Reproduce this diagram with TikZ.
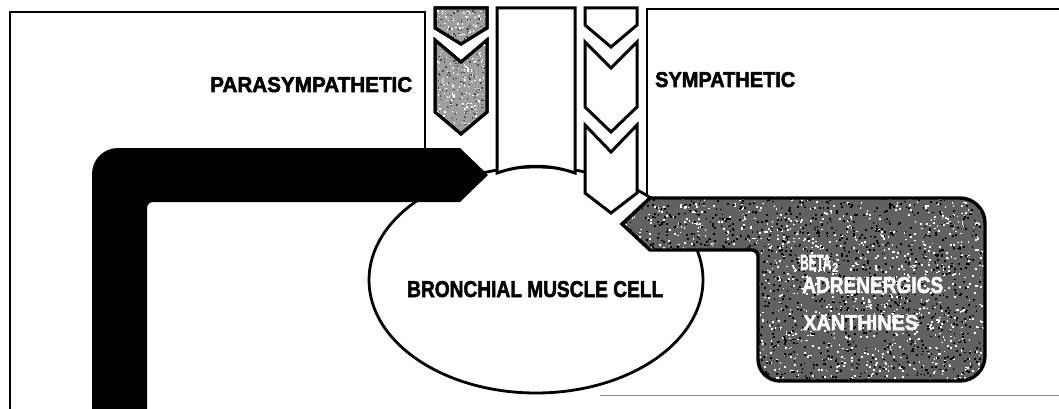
\documentclass[tikz,border=0pt]{standalone}
\usepackage{fontspec}
\setmainfont{Liberation Sans}
\newfontfamily\heavyfont[FakeBold=2.4]{Liberation Sans Bold}
\usetikzlibrary{shapes.geometric}
\newcommand\fitlabel[3]{\resizebox{#1pt}{#2pt}{\heavyfont #3}}
\tikzset{
  frameline/.style={line width=2.6pt, black},
  outlined/.style={line width=3pt, black, line join=miter},
  lightgray/.style={fill=black!38},
  lbl/.style={inner sep=0pt, anchor=base west},
}
\begin{document}
\begin{tikzpicture}[x=1pt,y=-1pt]
\useasboundingbox (0,0) rectangle (1059,409);
\fill[white] (0,0) rectangle (1059,409);
% frames
\draw[frameline] (10,409) -- (10,12) -- (425,12) -- (425,150);
\draw[frameline] (647,200) -- (647,9) -- (1059,9);
\draw[black!45, line width=1pt] (600,395) -- (1059,395);
% cell
\node[ellipse, draw, line width=2.8pt, fill=white, minimum width=334pt, minimum height=226pt, inner sep=0pt] (cell) at (536,280) {};
% central tube
\draw[outlined, fill=white] (497,8) -- (575,8) -- (575,173) .. controls (549,164) and (523,164) .. (497,173) -- cycle;
% parasympathetic chevrons
\pgfmathsetseed{11}
\draw[outlined, lightgray] (435,8) -- (487,8) -- (487,28) -- (461,44) -- (435,28) -- cycle;
\draw[outlined, lightgray] (435,40) -- (461,62) -- (487,40) -- (487,112) -- (461,134) -- (435,112) -- cycle;
\begin{scope}
\clip (435,8) -- (487,8) -- (487,28) -- (461,44) -- (435,28) -- cycle
      (435,40) -- (461,62) -- (487,40) -- (487,112) -- (461,134) -- (435,112) -- cycle;
\foreach \i in {1,...,260}{
  \pgfmathsetmacro\xx{437+48*rnd}
  \pgfmathsetmacro\yy{10+122*rnd}
  \fill[white] (\xx,\yy) rectangle ++(1.4,1.4);
}
\foreach \i in {1,...,220}{
  \pgfmathsetmacro\xx{437+48*rnd}
  \pgfmathsetmacro\yy{10+122*rnd}
  \fill[black!70] (\xx,\yy) rectangle ++(1.4,1.4);
}
\end{scope}
\draw[outlined] (435,8) -- (487,8) -- (487,28) -- (461,44) -- (435,28) -- cycle;
\draw[outlined] (435,40) -- (461,62) -- (487,40) -- (487,112) -- (461,134) -- (435,112) -- cycle;
% sympathetic chevrons
\draw[outlined, fill=white] (585,8) -- (637,8) -- (637,25) -- (611,47) -- (585,25) -- cycle;
\draw[outlined, fill=white] (585,42) -- (611,68) -- (637,42) -- (637,107) -- (611,132) -- (585,107) -- cycle;
\draw[outlined, fill=white] (585,125) -- (611,152) -- (637,125) -- (637,193) -- (611,213) -- (585,193) -- cycle;
% black L arrow (parasympathetic blockers)
\fill[black] (92,409) -- (92,174) .. controls (92,159.6) and (103.6,148) .. (118,148) -- (460,148) -- (488,175) -- (460,202) -- (153,202) .. controls (149.7,202) and (147,204.7) .. (147,208) -- (147,409) -- cycle;
% gray drug arrow
\fill[black!62] (622,224) -- (650,198) -- (960,198) .. controls (973.8,198) and (985,209.2) .. (985,223) -- (985,356) .. controls (985,369.8) and (973.8,381) .. (960,381) -- (780,381) .. controls (767.8,381) and (758,371.2) .. (758,359) -- (758,256) .. controls (758,252.7) and (755.3,250) .. (752,250) -- (650,250) -- cycle;
\begin{scope}
\clip (622,224) -- (650,198) -- (960,198) .. controls (973.8,198) and (985,209.2) .. (985,223) -- (985,356) .. controls (985,369.8) and (973.8,381) .. (960,381) -- (780,381) .. controls (767.8,381) and (758,371.2) .. (758,359) -- (758,256) .. controls (758,252.7) and (755.3,250) .. (752,250) -- (650,250) -- cycle;
\foreach \i in {1,...,1400}{
  \pgfmathsetmacro\xx{622+363*rnd}
  \pgfmathsetmacro\yy{198+183*rnd}
  \fill[white] (\xx,\yy) rectangle ++(1.7,1.7);
}
\foreach \i in {1,...,1600}{
  \pgfmathsetmacro\xx{622+363*rnd}
  \pgfmathsetmacro\yy{198+183*rnd}
  \fill[black] (\xx,\yy) rectangle ++(1.8,1.8);
}
\end{scope}
\draw[line width=3.4pt, black, line join=miter] (622,224) -- (650,198) -- (960,198) .. controls (973.8,198) and (985,209.2) .. (985,223) -- (985,356) .. controls (985,369.8) and (973.8,381) .. (960,381) -- (780,381) .. controls (767.8,381) and (758,371.2) .. (758,359) -- (758,256) .. controls (758,252.7) and (755.3,250) .. (752,250) -- (650,250) -- cycle;
% labels
\node[lbl] (para) at (210,92) {\fitlabel{202}{15}{PARASYMPATHETIC}};
\node[lbl] (symp) at (655,87) {\fitlabel{140}{15}{SYMPATHETIC}};
\node[lbl] (celltext) at (407,297) {\fitlabel{256}{16}{BRONCHIAL MUSCLE CELL}};
\node[lbl, text=white] (beta) at (800,270) {\fitlabel{31}{15}{BETA}\hspace{1pt}\raisebox{-2pt}{\fitlabel{6}{9}{2}}};
\node[lbl, text=white] (adren) at (802,293) {\fitlabel{141}{16}{ADRENERGICS}};
\node[lbl, text=white] (xanth) at (803,330) {\fitlabel{115}{15}{XANTHINES}};
\end{tikzpicture}
\end{document}
